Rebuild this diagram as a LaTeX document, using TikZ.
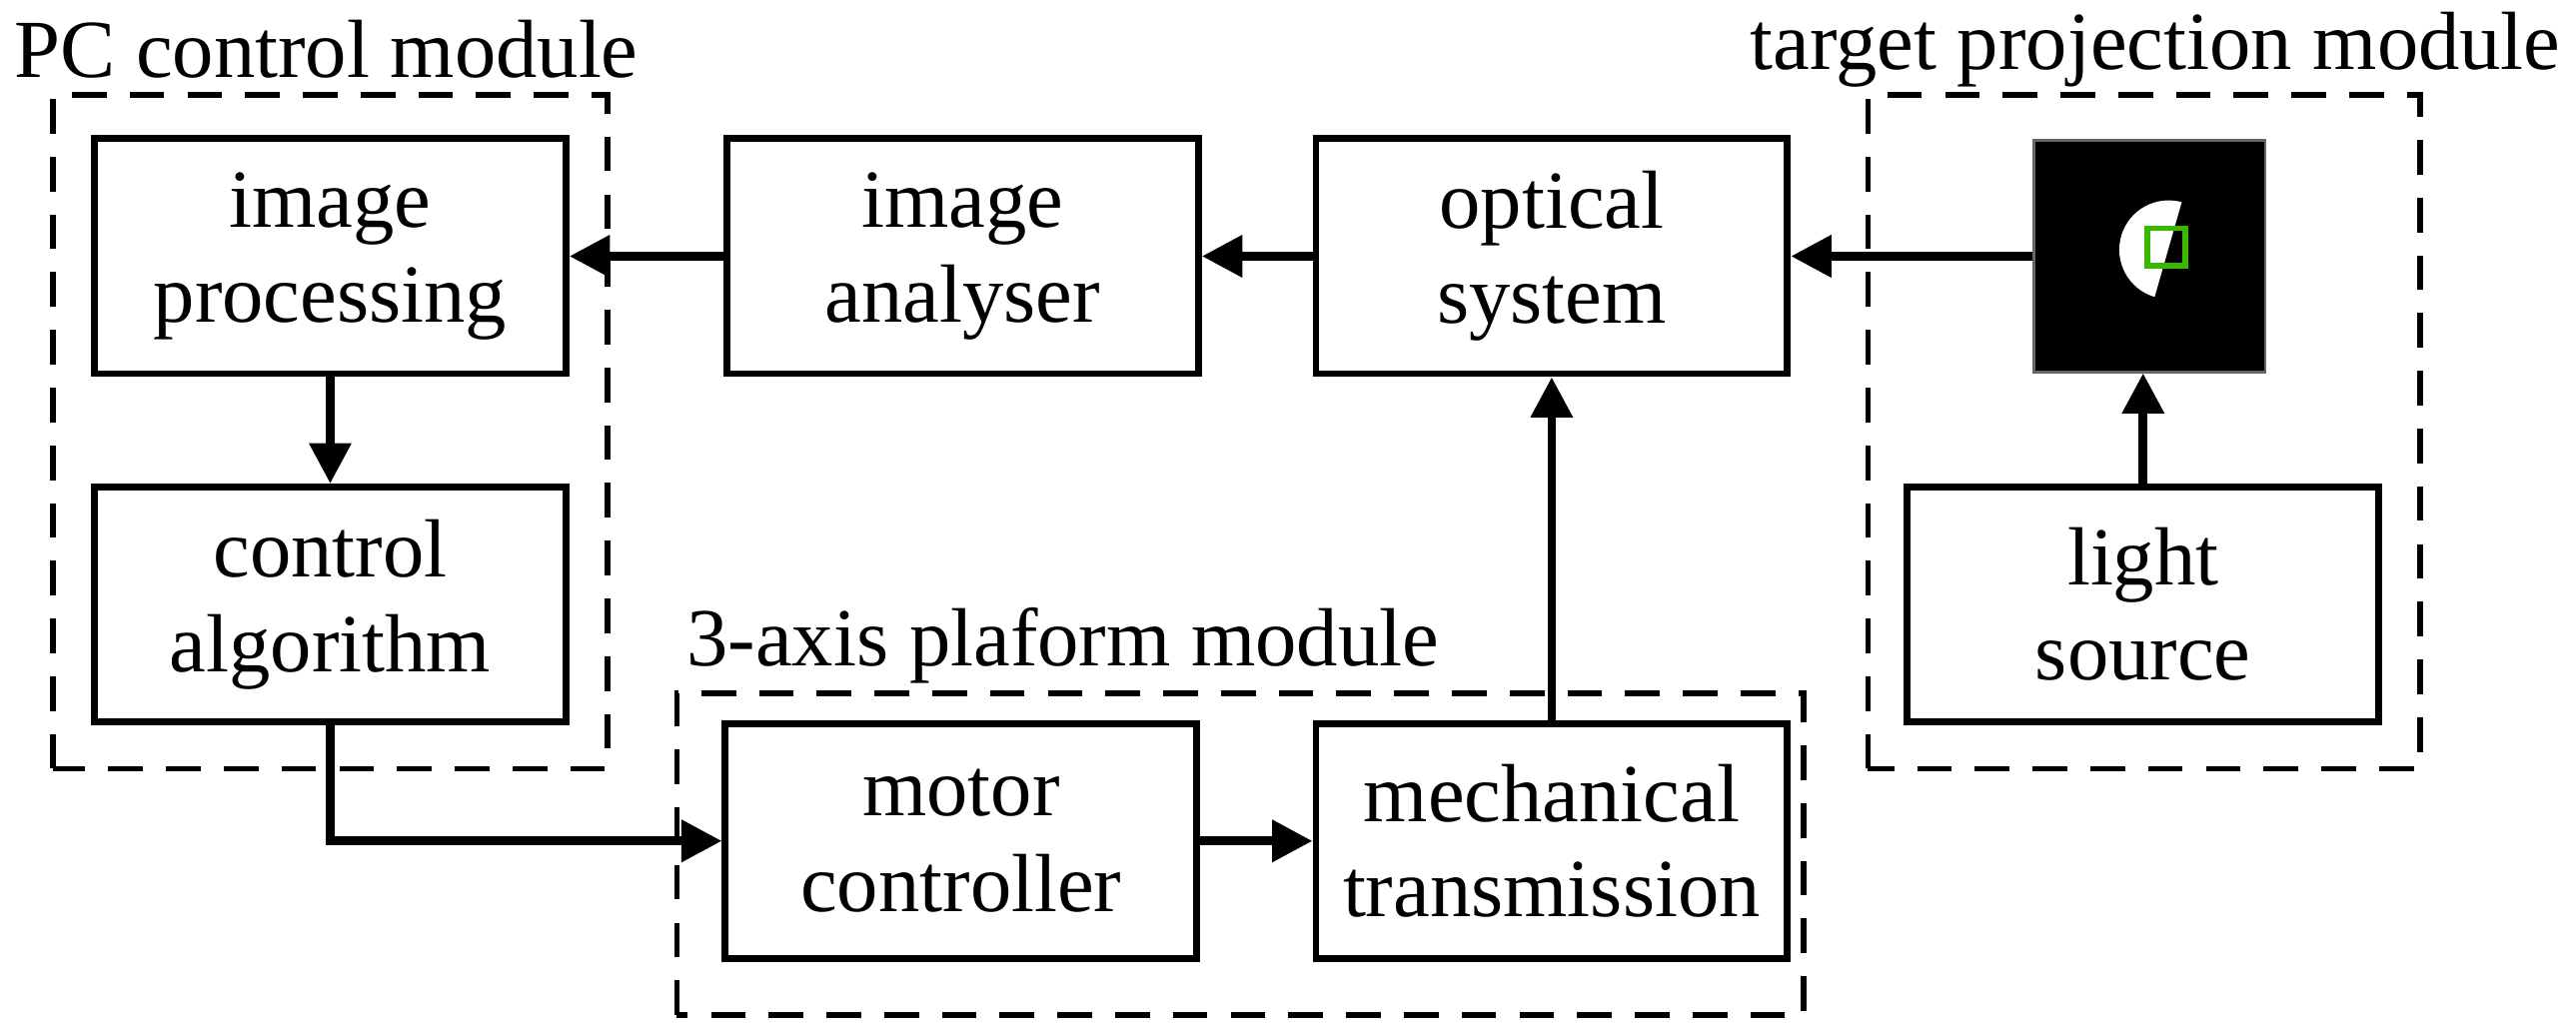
\documentclass[tikz,border=0pt]{standalone}
\usepackage{fontspec}
\setmainfont{Liberation Serif}
\usetikzlibrary{arrows.meta}
\begin{document}
\begin{tikzpicture}[
  font=\fontsize{14.3pt}{16.5pt}\selectfont,
  blk/.style={draw, line width=1.2pt, minimum width=2.87cm, minimum height=1.43cm, inner sep=0pt, align=center},
  mod/.style={draw, line width=1pt, dash pattern=on 6pt off 4pt},
  arr/.style={line width=1.5pt, -{Triangle[length=7pt,width=7pt]}}]
\useasboundingbox (0,0) rectangle (15.68,6.3);
% modules
\draw[mod] (0.32,1.62) rectangle (3.70,5.72);
\draw[mod] (11.37,1.62) rectangle (14.73,5.72);
\draw[mod] (4.12,0.12) rectangle (10.98,2.08);
\node[anchor=west, inner sep=0pt] (lpc) at (0.08,6.0) {PC control module};
\node[inner sep=0pt] (ltg) at (13.12,6.0) {target projection module};
\node[inner sep=0pt] (lax) at (6.47,2.37) {3-axis plaform module};
% blocks
\node[blk] (proc) at (2.01,4.74) {image\\processing};
\node[blk] (ctrl) at (2.01,2.62) {control\\algorithm};
\node[blk] (ana) at (5.86,4.74) {image\\analyser};
\node[blk] (opt) at (9.445,4.74) {optical\\system};
\node[blk] (light) at (13.045,2.62) {light\\source};
\node[blk] (mot) at (5.85,1.18) {motor\\controller};
\node[blk] (mech) at (9.445,1.18) {mechanical\\transmission};
% target image
\node[fill=black, draw=black!60, minimum size=1.41cm, inner sep=0pt] (tgt) at (13.085,4.74) {};
\begin{scope}
  \clip (12.5,4.0) -- (13.11,4.475) -- (13.28,5.07) -- (12.5,5.5) -- cycle;
  \fill[white] (13.20,4.78) circle (0.30);
\end{scope}
\draw[green!60!black!70!lime, line width=1pt] (13.07,4.68) rectangle (13.30,4.91);
% connectors
\draw[arr] (ana) -- (proc);
\draw[arr] (opt) -- (ana);
\draw[arr] (tgt) -- (opt);
\draw[arr] (light.north) -- (light.north |- tgt.south);
\draw[arr] (proc) -- (ctrl);
\draw[arr] (ctrl.south) |- (mot.west);
\draw[arr] (mot) -- (mech);
\draw[arr] (mech) -- (opt);
\end{tikzpicture}
\end{document}
